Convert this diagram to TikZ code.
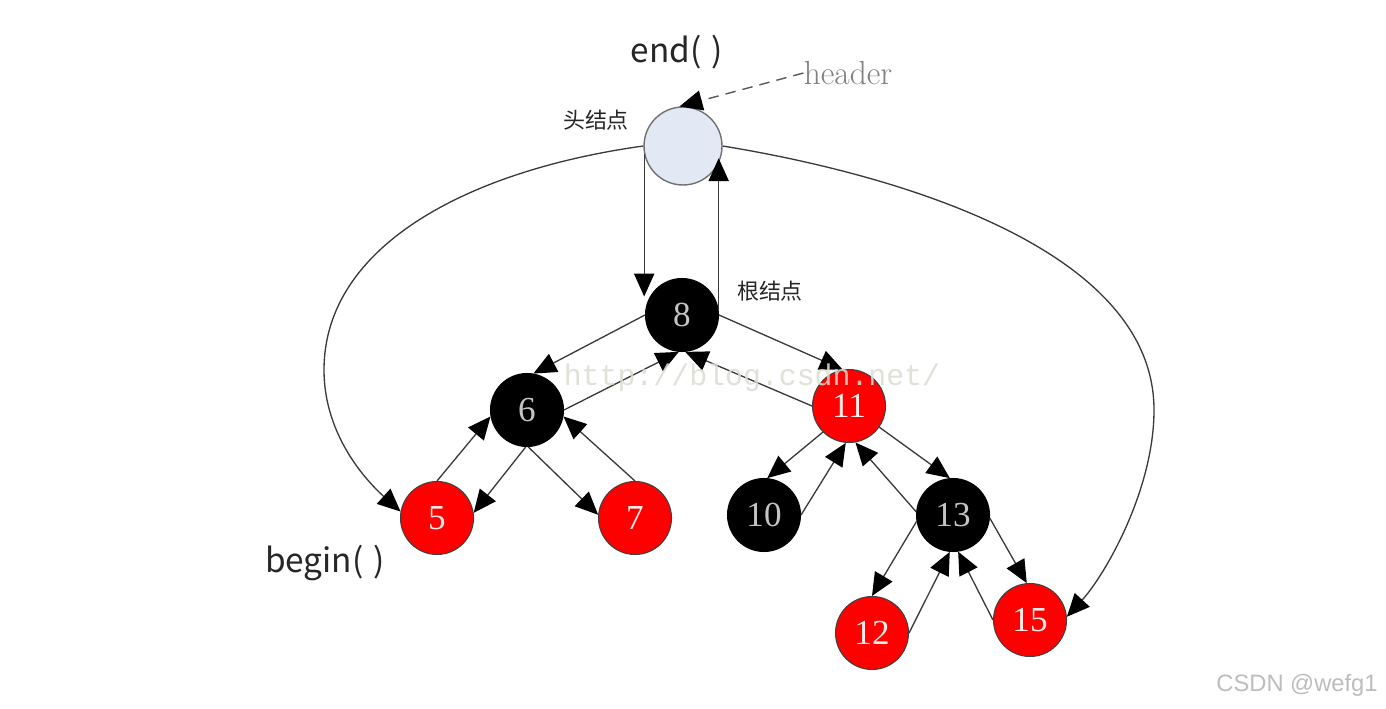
\documentclass[tikz,border=0pt]{standalone}
\usepackage{fontspec}
\newfontfamily\cjk{Noto Sans CJK SC}
\newfontfamily\numfont{Liberation Serif}
\newfontfamily\wmfont{Liberation Mono}
\newfontfamily\csdnfont{Liberation Sans}
\usetikzlibrary{arrows.meta}
\definecolor{hdrfill}{HTML}{E2E9F4}
\definecolor{hdrdraw}{HTML}{707070}
\definecolor{numgray}{HTML}{C4C4C4}
\definecolor{linegray}{HTML}{3A3A3A}
\definecolor{wmgray}{HTML}{DCDCD4}
\definecolor{csdngray}{HTML}{BDBDBD}
\definecolor{rednum}{HTML}{FFE8E8}
\begin{document}
\begin{tikzpicture}[x=0.02cm, y=-0.02cm,
  tn/.style={circle, minimum size=1.46cm, inner sep=0pt, line width=0.6pt, font=\numfont\fontsize{20}{20}\selectfont},
  blk/.style={tn, fill=black, draw=black, text=numgray},
  rd/.style={tn, fill=red, draw=black!75, text=rednum},
  hd/.style={circle, minimum size=1.56cm, inner sep=0pt, fill=hdrfill, draw=hdrdraw, line width=0.8pt},
  lbl/.style={inner sep=0pt, font=\cjk\fontsize{19}{19}\selectfont, text=black!85},
  cn/.style={inner sep=0pt, font=\cjk\fontsize{12.5}{12.5}\selectfont, text=black!85},
  edge/.style={draw=linegray, line width=0.75pt, -{Triangle[length=13pt,width=11.5pt,color=black]}},
  hedge/.style={draw=black!65, line width=0.8pt, dash pattern=on 6pt off 4pt, -{Triangle[length=13pt,width=11.5pt,color=black]}}
]
\useasboundingbox (0,0) rectangle (1386,709);
\fill[white] (0,0) rectangle (1386,709);

% nodes
\node[hd] (hdr) at (683,146) {};
\node[blk] (n8) at (682,315) {8};
\node[blk] (n6) at (527,410) {6};
\node[rd] (n11) at (849,406) {11};
\node[rd] (n5) at (437,518) {5};
\node[rd] (n7) at (635,518) {7};
\node[blk] (n10) at (764,515) {10};
\node[blk] (n13) at (953,515) {13};
\node[rd] (n12) at (872,633) {12};
\node[rd] (n15) at (1030,620) {15};

% labels
\node[lbl] (endl) at (677,52) {end(\hspace{0.3em})};
\node[lbl] (beginl) at (325,563) {begin(\hspace{0.3em})};
\node[cn] (headl) at (596,120) {头结点};
\node[cn] (rootl) at (770,291) {根结点};
\node[inner sep=0pt, text=black!50, font=\fontsize{19}{19}\selectfont] (hdrtxt) at (848,73) {header};

% header pointer
\draw[hedge] (hdrtxt.west) -- (hdr.95);

% header <-> root
\draw[edge] (hdr.192) -- (hdr.192 |- n8.150);
\draw[edge] (n8.8) -- (n8.8 |- hdr.-18);

% leftmost / rightmost
\draw[edge] (hdr.west) .. controls (470,170) and (324,245) .. (324,370)
  .. controls (324,430) and (360,475) .. (n5.170);
\draw[edge] (hdr.east) .. controls (900,175) and (1154,250) .. (1154,410)
  .. controls (1154,490) and (1105,575) .. (n15.5);

% tree edges
\draw[edge] (n8.west) -- (n6.80);
\draw[edge] (n6.east) -- (n8.-95);
\draw[edge] (n8.east) -- (n11.100);
\draw[edge] (n11.west) -- (n8.-85);

\draw[edge] (n6.-92) -- (n5.8);
\draw[edge] (n5.north) -- (n6.190);
\draw[edge] (n6.-88) -- (n7.175);
\draw[edge] (n7.north) -- (n6.-10);

\draw[edge] (n11.225) -- (n10.85);
\draw[edge] (n10.east) -- (n11.-95);
\draw[edge] (n11.-35) -- (n13.95);
\draw[edge] (n13.175) -- (n11.-80);

\draw[edge] (n13.190) -- (n12.north);
\draw[edge] (n12.east) -- (n13.-95);
\draw[edge] (n13.-5) -- (n15.95);
\draw[edge] (n15.west) -- (n13.-82);

% watermarks
\node[inner sep=0pt, text=wmgray, opacity=0.85, font=\wmfont\fontsize{17}{17}\selectfont] (wm) at (752,378) {http://blog.csdn.net/};
\node[inner sep=0pt, text=csdngray, font=\csdnfont\fontsize{13.5}{13.5}\selectfont] (csdn) at (1297,685) {CSDN @wefg1};
\end{tikzpicture}
\end{document}
